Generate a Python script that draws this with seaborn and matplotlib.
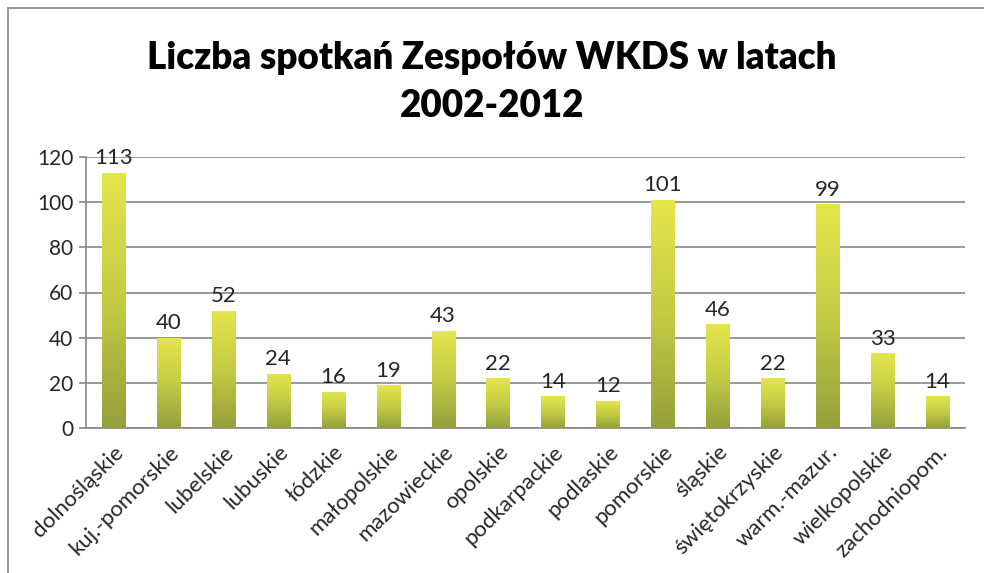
import matplotlib.pyplot as plt
import matplotlib.colors as mcolors
import numpy as np
import pandas as pd
import seaborn as sns

# dane z wykresu
wojewodztwa = ['dolnośląskie', 'kuj.-pomorskie', 'lubelskie', 'lubuskie', 'łódzkie',
               'małopolskie', 'mazowieckie', 'opolskie', 'podkarpackie', 'podlaskie',
               'pomorskie', 'śląskie', 'świętokrzyskie', 'warm.-mazur.', 'wielkopolskie',
               'zachodniopom.']
spotkania = [113, 40, 52, 24, 16, 19, 43, 22, 14, 12, 101, 46, 22, 99, 33, 14]
tytul = 'Liczba spotkań Zespołów WKDS w latach\n2002-2012'

sns.set_style('white')
plt.rcParams['font.family'] = ['Lato', 'DejaVu Sans']

df = pd.DataFrame({'woj': wojewodztwa, 'n': spotkania})

fig = plt.figure(figsize=(9.84, 5.73), dpi=100)
ax = fig.add_axes([86 / 984, 1 - 428 / 573, 879 / 984, 271 / 573])

sns.barplot(data=df, x='woj', y='n', ax=ax, width=0.42, color='#c8d040',
            edgecolor='none', zorder=3)

# gradient na słupkach
cmap = mcolors.LinearSegmentedColormap.from_list('g', ['#95a03b', '#c4cc44', '#e4e64c'])
grad = np.linspace(0, 1, 256).reshape(-1, 1)
for p in ax.patches:
    x0, y0 = p.get_x(), p.get_y()
    w, h = p.get_width(), p.get_height()
    im = ax.imshow(grad, cmap=cmap, aspect='auto', origin='lower',
                   extent=[x0, x0 + w, y0, y0 + h], zorder=4)
    im.set_clip_path(p)
    ax.text(x0 + w / 2, h + 2, str(int(h)), ha='center', va='bottom', fontsize=16, zorder=5)

ax.set_xlim(-0.5, len(wojewodztwa) - 0.5)
ax.set_ylim(0, 120)
ax.set_yticks(range(0, 121, 20))
ax.yaxis.grid(True, color='#878787', lw=1.2, zorder=0)
ax.set_axisbelow(True)
for s in ['top', 'right']:
    ax.spines[s].set_visible(False)
for s in ['left', 'bottom']:
    ax.spines[s].set_color('#878787')
    ax.spines[s].set_linewidth(1.2)

ax.set_xticks(np.arange(-0.5, len(wojewodztwa)), minor=True)
ax.tick_params(axis='x', which='major', length=0, pad=10)
ax.tick_params(axis='x', which='minor', length=5, color='#878787', width=1.2)
ax.tick_params(axis='y', length=5, color='#878787', width=1.2, labelsize=15, pad=4,
               direction='out', left=True)
ax.set_xticklabels(wojewodztwa, rotation=45, ha='right', rotation_mode='anchor', fontsize=16)
ax.set_xlabel('')
ax.set_ylabel('')

fig.text(0.5, 1 - 82 / 573, tytul, ha='center', va='center', fontsize=26.5,
         fontweight='heavy', linespacing=1.5, color='black')

# ramka wykresu
fig.add_artist(plt.Line2D([8 / 984, 1], [1 - 8 / 573, 1 - 8 / 573], color='#878787', lw=1.2))
fig.add_artist(plt.Line2D([8 / 984, 8 / 984], [0, 1 - 8 / 573], color='#878787', lw=1.2))

fig.savefig('out.png', dpi=100)
